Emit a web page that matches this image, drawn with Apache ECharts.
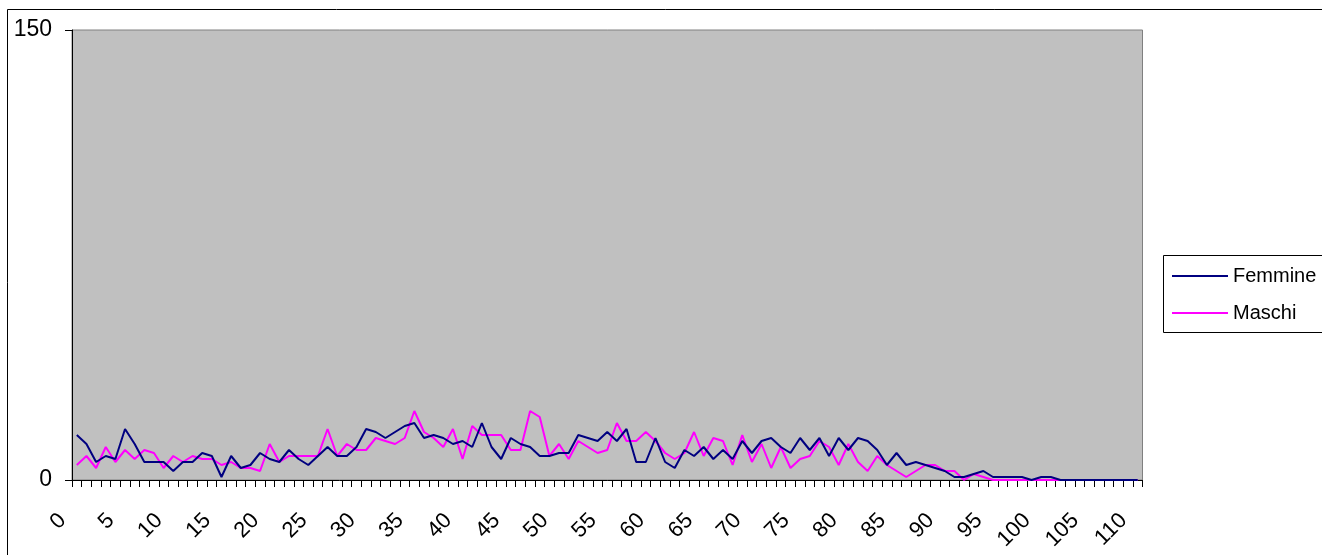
<!DOCTYPE html>
<html>
<head>
<meta charset="utf-8">
<script src="https://cdn.jsdelivr.net/npm/echarts@6/dist/echarts.min.js"></script>
<style>
html,body{margin:0;padding:0;background:#fff;}
#c{width:1322px;height:555px;}
</style>
</head>
<body>
<div id="c"></div>
<script>
// Ages 0..110
const categories = [];
for (let a = 0; a <= 110; a++) categories.push(String(a));

const seriesNames = ['Femmine', 'Maschi'];

const femmine = [15,12,6,8,7,17,12,6,6,6,3,6,6,9,8,1,8,4,5,9,
  7,6,10,7,5,8,11,8,8,11,17,16,14,16,18,19,14,15,14,12,
  13,11,19,11,7,14,12,11,8,8,9,9,15,14,13,16,13,17,6,6,
  14,6,4,10,8,11,7,10,7,13,9,13,14,11,9,14,10,14,8,14,
  10,14,13,10,5,9,5,6,5,4,3,1,1,2,3,1,1,1,1,0,
  1,1,0,0,0,0,0,0,0,0,0];

const maschi = [5,8,4,11,6,10,7,10,9,4,8,6,8,7,7,5,6,4,4,3,
  12,6,8,8,8,8,17,8,12,10,10,14,13,12,14,23,16,14,11,17,
  7,18,15,15,15,10,10,23,21,8,12,7,13,11,9,10,19,13,13,16,
  13,9,7,9,16,8,14,13,5,15,6,12,4,11,4,7,8,13,11,5,
  12,6,3,8,5,3,1,3,5,5,3,3,0,2,1,0,0,0,0,0,
  0,0,0,0,0,0,0,0,0,0,0];

const yTicks = [0, 150];

const chart = echarts.init(document.getElementById('c'), null, {renderer: 'canvas'});
const FONT = 'Liberation Sans, Arial, sans-serif';
chart.setOption({
  animation: false,
  backgroundColor: '#ffffff',
  graphic: [
    {type: 'rect', shape: {x: 7.5, y: 9.5, width: 1400, height: 600},
     style: {fill: 'none', stroke: '#000', lineWidth: 1}, z: 0, silent: true},
    {type: 'rect', shape: {x: 1163.5, y: 255.5, width: 200, height: 77},
     style: {fill: '#fff', stroke: '#000', lineWidth: 1}, z: 1, silent: true}
  ],
  grid: {left: 72, top: 30, right: 179.5, bottom: 75, show: true,
    backgroundColor: '#c0c0c0', borderColor: '#808080', borderWidth: 1},
  legend: {
    orient: 'vertical', left: 1172, top: 266, padding: 0,
    data: seriesNames.map(n => ({name: n, icon: 'rect'})),
    itemWidth: 56, itemHeight: 2, itemGap: 17,
    textStyle: {fontFamily: FONT, fontSize: 20, color: '#000', lineHeight: 20},
    z: 5
  },
  xAxis: {
    type: 'category', data: categories, boundaryGap: true,
    axisLine: {lineStyle: {color: '#000', width: 1}},
    axisTick: {show: true, interval: 0, length: 7, lineStyle: {color: '#000'}},
    axisLabel: {interval: 4, rotate: 45, margin: 23, padding: [0, 20, 0, 0],
      fontFamily: FONT, fontSize: 22, color: '#000'},
    splitLine: {show: false}
  },
  yAxis: {
    type: 'value', min: yTicks[0], max: yTicks[1], interval: yTicks[1] - yTicks[0],
    axisLine: {show: true, lineStyle: {color: '#000', width: 1}},
    axisTick: {show: true, length: 7, lineStyle: {color: '#000'}},
    axisLabel: {margin: 20, fontFamily: FONT, fontSize: 23, color: '#000'},
    splitLine: {show: false}
  },
  series: [
    {name: seriesNames[0], type: 'line', data: femmine, symbol: 'none',
     lineStyle: {color: '#000080', width: 2}, itemStyle: {color: '#000080'}, z: 3},
    {name: seriesNames[1], type: 'line', data: maschi, symbol: 'none',
     lineStyle: {color: '#ff00ff', width: 2}, itemStyle: {color: '#ff00ff'}, z: 2}
  ]
});
</script>
</body>
</html>
